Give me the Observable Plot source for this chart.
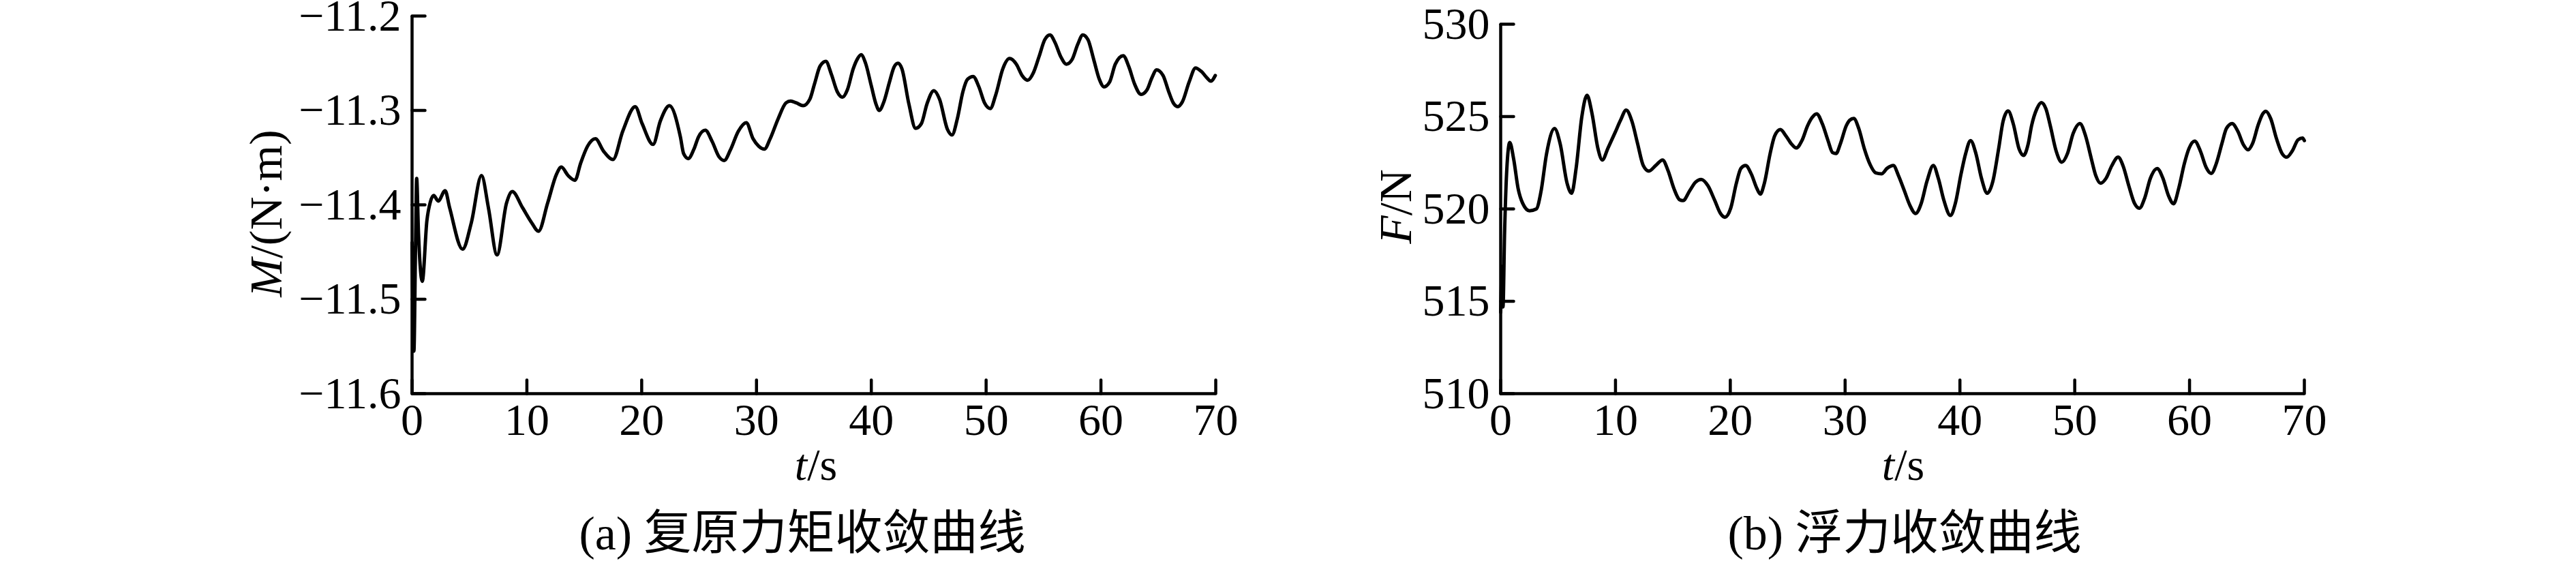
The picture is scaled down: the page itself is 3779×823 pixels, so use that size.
<!DOCTYPE html>
<html>
<head>
<meta charset="utf-8">
<script src="https://cdn.jsdelivr.net/npm/d3@7"></script>
<script src="https://cdn.jsdelivr.net/npm/@observablehq/plot@0.6"></script>
<style>
html, body { margin: 0; padding: 0; background: #fff; }
#root { position: relative; width: 3779px; height: 823px; overflow: hidden; background: #fff; }
</style>
</head>
<body>
<div id="root"></div>
<script>
// ---- (a) restoring moment M (N·m) vs time t (s) ----
const momentTime = [0,0.16,0.30,0.40,0.56,0.89,1.29,1.59,1.88,2.28,2.88,3.27,4.40,5.16,6.05,6.65,7.40,8.23,8.73,9.62,10.42,11.01,11.81,12.60,13.00,13.59,14.19,14.68,15.28,15.97,16.67,17.50,18.35,19.44,20.04,20.99,21.63,22.42,23.37,23.66,24.06,24.55,24.95,25.54,26.14,26.73,27.19,27.72,28.42,29.11,29.70,30.20,30.69,31.19,31.88,32.57,32.97,33.47,34.06,34.65,35.05,35.54,36.04,36.53,37.03,37.49,37.92,38.42,38.81,39.11,39.50,40.00,40.40,40.69,41.09,41.58,41.98,42.32,42.67,43.27,43.86,44.36,44.85,45.45,45.94,46.63,47.03,47.49,47.98,48.38,48.87,49.37,49.86,50.36,50.85,51.45,52.04,52.63,53.13,53.62,54.12,54.61,55.11,55.56,56.00,56.50,56.99,57.49,57.98,58.42,58.87,59.37,59.86,60.26,60.75,61.25,61.94,62.44,62.93,63.49,64.02,64.42,64.85,65.41,65.90,66.30,66.69,67.09,67.68,68.24,68.77,69.27,69.56,69.96];
const momentValue = [-11.440,-11.555,-11.446,-11.372,-11.430,-11.481,-11.417,-11.397,-11.390,-11.396,-11.385,-11.403,-11.447,-11.419,-11.369,-11.403,-11.453,-11.398,-11.386,-11.403,-11.419,-11.428,-11.398,-11.367,-11.360,-11.369,-11.374,-11.356,-11.338,-11.330,-11.343,-11.352,-11.322,-11.296,-11.314,-11.336,-11.311,-11.295,-11.328,-11.346,-11.351,-11.341,-11.328,-11.321,-11.333,-11.349,-11.353,-11.342,-11.322,-11.313,-11.330,-11.338,-11.341,-11.330,-11.309,-11.292,-11.290,-11.292,-11.295,-11.288,-11.272,-11.253,-11.248,-11.262,-11.280,-11.286,-11.278,-11.256,-11.245,-11.241,-11.250,-11.274,-11.293,-11.300,-11.291,-11.270,-11.254,-11.250,-11.256,-11.293,-11.319,-11.314,-11.293,-11.279,-11.288,-11.320,-11.326,-11.309,-11.280,-11.267,-11.264,-11.275,-11.292,-11.298,-11.283,-11.256,-11.245,-11.251,-11.263,-11.268,-11.260,-11.243,-11.225,-11.220,-11.228,-11.243,-11.251,-11.246,-11.230,-11.220,-11.225,-11.246,-11.267,-11.275,-11.270,-11.251,-11.242,-11.254,-11.272,-11.283,-11.278,-11.266,-11.257,-11.263,-11.280,-11.292,-11.296,-11.291,-11.270,-11.255,-11.259,-11.266,-11.269,-11.263];
const momentTicks = [-11.6, -11.5, -11.4, -11.3, -11.2];

// ---- (b) buoyancy F (N) vs time t (s) ----
const forceTime = [0,0.14,0.20,0.34,0.53,0.79,1.13,1.52,1.92,2.51,3.11,3.50,4.00,4.69,5.19,5.78,6.18,6.57,7.07,7.52,7.96,8.46,8.85,9.35,9.94,10.44,10.93,11.43,11.92,12.42,12.91,13.50,14.10,14.59,15.09,15.58,15.88,16.48,16.97,17.47,18.06,18.65,19.15,19.54,20.04,20.53,20.93,21.33,21.82,22.32,22.61,22.97,23.47,23.86,24.36,24.85,25.35,25.74,26.24,26.73,27.13,27.52,28.02,28.51,28.91,29.21,29.60,30.10,30.40,30.75,31.19,31.68,32.18,32.67,33.17,33.66,34.20,34.65,35.15,35.64,36.14,36.63,37.13,37.68,38.12,38.61,39.17,39.60,40.10,40.50,40.93,41.39,41.88,42.38,42.87,43.37,43.76,44.20,44.65,45.15,45.54,45.94,46.24,46.70,47.09,47.49,47.88,48.38,48.87,49.37,49.86,50.45,50.95,51.44,51.84,52.24,52.73,53.22,53.78,54.21,54.71,55.20,55.64,56.09,56.59,57.18,57.68,58.17,58.61,59.06,59.55,59.95,60.45,60.94,61.44,61.89,62.33,62.82,63.21,63.71,64.20,64.70,65.09,65.49,65.98,66.38,66.64,67.07,67.57,68.06,68.46,68.95,69.45,69.84,70.00];
const forceValue = [514.4,516.9,514.7,518.7,522.1,523.6,522.7,521.1,520.3,519.9,520.0,520.9,523.0,524.35,523.5,521.4,520.85,522.2,525.0,526.15,525.15,523.3,522.65,523.3,524.1,524.8,525.35,524.75,523.55,522.35,522.05,522.35,522.65,522.05,521.1,520.5,520.45,521.0,521.45,521.6,521.25,520.45,519.75,519.55,520.05,521.4,522.2,522.35,521.9,521.1,520.8,521.4,523.0,523.95,524.3,523.95,523.5,523.3,523.7,524.5,524.95,525.15,524.6,523.7,523.05,523.0,523.55,524.5,524.8,524.9,524.35,523.25,522.4,521.95,521.9,522.2,522.35,521.8,521.0,520.2,519.75,520.3,521.5,522.35,521.65,520.45,519.65,520.3,521.9,523.0,523.7,523.0,521.65,520.85,521.5,523.25,524.75,525.3,524.6,523.25,522.9,523.5,524.5,525.42,525.76,525.42,524.48,523.14,522.53,523.0,524.08,524.62,523.94,522.73,521.79,521.39,521.66,522.33,522.80,522.33,521.25,520.31,520.04,520.58,521.66,522.19,521.66,520.71,520.28,521.12,522.46,523.27,523.67,523.14,522.26,521.92,522.46,523.54,524.35,524.62,524.21,523.47,523.20,523.54,524.55,525.15,525.29,524.89,523.81,523.0,522.80,523.14,523.74,523.84,523.7];
const forceTicks = [510, 515, 520, 525, 530];

const timeTicks = [0, 10, 20, 30, 40, 50, 60, 70];

const SERIF = '"Liberation Serif", "Times New Roman", serif';
const CAPTION_FONT = '"Liberation Serif", "Noto Sans CJK SC", serif';
const INK = "#000";
const tickShape = { draw(ctx, l) { ctx.moveTo(0, 0); ctx.lineTo(0, -l); } };
const fmtTick = d => (d < 0 ? "\u2212" + Math.abs(d).toFixed(1) : String(d));

function panel(cfg) {
  const data = cfg.time.map((t, i) => ({ t, v: cfg.values[i] }));
  const y0 = cfg.yDomain[0];
  const plot = Plot.plot({
    width: cfg.width,
    height: 823,
    marginLeft: cfg.marginLeft,
    marginRight: cfg.marginRight,
    marginTop: cfg.marginTop,
    marginBottom: 246,
    style: { fontFamily: SERIF, fontSize: "66px", background: "transparent", color: INK },
    x: { domain: [0, 70] },
    y: { domain: cfg.yDomain },
    marks: [
      Plot.line(data, { x: "t", y: "v", curve: "monotone-x", stroke: INK, strokeWidth: 5 }),
      Plot.ruleX([0], { stroke: INK, strokeWidth: 4.5 }),
      Plot.ruleY([y0], { stroke: INK, strokeWidth: 4.5 }),
      Plot.vector(timeTicks, { x: d => d, y: y0, length: 20, rotate: 0, anchor: "start", shape: tickShape, stroke: INK, strokeWidth: 4.5 }),
      Plot.vector(cfg.yTicks, { x: 0, y: d => d, length: 19, rotate: 90, anchor: "start", shape: tickShape, stroke: INK, strokeWidth: 4.5 }),
      Plot.axisX(timeTicks, { tickSize: 0, tickPadding: 14, fontSize: 66, label: null, tickFormat: d => String(d), fill: INK }),
      Plot.axisY(cfg.yTicks, { tickSize: 0, tickPadding: 16, fontSize: 66, label: null, tickFormat: fmtTick, fill: INK })
    ]
  });
  plot.style.position = "absolute";
  plot.style.left = cfg.left + "px";
  plot.style.top = "0px";
  plot.style.maxWidth = "none";

  const svg = d3.select(plot);
  // y-axis title (rotated)
  const yl = svg.append("text")
    .attr("transform", `translate(${cfg.yLabelX},${cfg.yLabelY}) rotate(-90)`)
    .attr("text-anchor", "middle")
    .attr("font-family", SERIF)
    .attr("font-size", 68)
    .attr("fill", INK);
  yl.append("tspan").attr("font-style", "italic").text(cfg.yVar);
  yl.append("tspan").text(cfg.yUnit);

  // x-axis title
  const xl = svg.append("text")
    .attr("x", cfg.xLabelX).attr("y", 704)
    .attr("text-anchor", "middle")
    .attr("font-family", SERIF)
    .attr("font-size", 66)
    .attr("fill", INK);
  xl.append("tspan").attr("font-style", "italic").text("t");
  xl.append("tspan").text("/s");

  // caption
  svg.append("text")
    .attr("x", cfg.captionX).attr("y", 806)
    .attr("text-anchor", "middle")
    .attr("font-family", CAPTION_FONT)
    .attr("font-size", 70)
    .attr("fill", INK)
    .text(cfg.caption);

  document.getElementById("root").appendChild(plot);
}

panel({
  time: momentTime, values: momentValue,
  yDomain: [-11.6, -11.2], yTicks: momentTicks,
  left: 0, width: 1889, marginLeft: 604, marginRight: 106, marginTop: 23,
  yVar: "M", yUnit: "/(N\u00B7m)", yLabelX: 413, yLabelY: 313,
  xLabelX: 1197, captionX: 1177,
  caption: "(a) 复原力矩收敛曲线"
});

panel({
  time: forceTime, values: forceValue,
  yDomain: [510, 530], yTicks: forceTicks,
  left: 1889, width: 1890, marginLeft: 312, marginRight: 399, marginTop: 35,
  yVar: "F", yUnit: "/N", yLabelX: 181, yLabelY: 303,
  xLabelX: 903, captionX: 905,
  caption: "(b) 浮力收敛曲线"
});
</script>
</body>
</html>
